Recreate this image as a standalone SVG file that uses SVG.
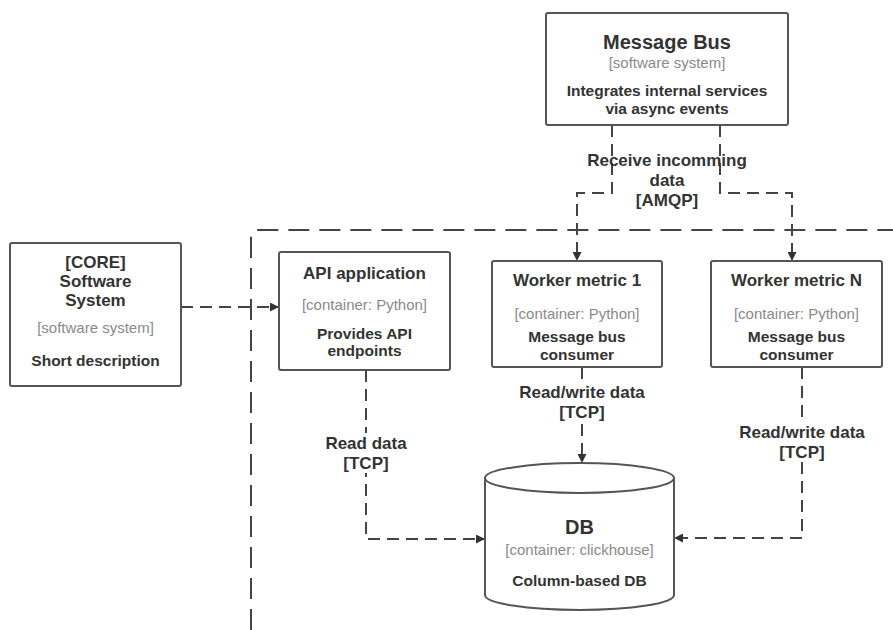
<svg xmlns="http://www.w3.org/2000/svg" width="893" height="630" viewBox="0 0 893 630">
<defs>
<style>
.box{fill:#fff;stroke:#555;stroke-width:2}
.t{font-family:"Liberation Sans",Arial,sans-serif;font-weight:bold;fill:#333;text-anchor:middle}
.h{font-size:17px}
.d{font-size:15.5px}
.g{font-family:"Liberation Sans",Arial,sans-serif;font-size:15px;fill:#8a8a8a;text-anchor:middle}
.c{fill:none;stroke:#444;stroke-width:2;stroke-dasharray:12 7}
.lbl{font-family:"Liberation Sans",Arial,sans-serif;font-weight:bold;font-size:17px;fill:#333;text-anchor:middle}
.bnd{fill:none;stroke:#444;stroke-width:2;stroke-dasharray:21 10}
</style>
<marker id="arr" viewBox="0 0 10 10" refX="10" refY="5" markerWidth="9" markerHeight="9" markerUnits="userSpaceOnUse" orient="auto">
<path d="M0 0 L10 5 L0 10 z" fill="#333"/>
</marker>
</defs>
<rect width="893" height="630" fill="#fff"/>

<g id="boundary">
<path class="bnd" d="M251 630 V238 Q251 230 259 230 H893"/>
</g>

<g id="connectors">
<path class="c" d="M181 307 H279" marker-end="url(#arr)"/>
<path class="c" d="M612 125 V193 H577 V261" marker-end="url(#arr)"/>
<path class="c" d="M720 125 V193 H792 V261" marker-end="url(#arr)"/>
<path class="c" d="M366 370 V539 H485" marker-end="url(#arr)"/>
<path class="c" d="M582 367 V463" marker-end="url(#arr)"/>
<path class="c" d="M802 367 V538 H674" marker-end="url(#arr)"/>
<g id="labels">
<text class="lbl" x="667" y="166">Receive incomming</text>
<text class="lbl" x="667" y="186">data</text>
<text class="lbl" x="667" y="206">[AMQP]</text>
<rect x="320" y="433" width="92" height="40" fill="#fff"/>
<text class="lbl" x="366" y="449">Read data</text>
<text class="lbl" x="366" y="469">[TCP]</text>
<rect x="515" y="381" width="134" height="40" fill="#fff"/>
<text class="lbl" x="582" y="398">Read/write data</text>
<text class="lbl" x="582" y="418">[TCP]</text>
<rect x="735" y="421" width="134" height="40" fill="#fff"/>
<text class="lbl" x="802" y="438">Read/write data</text>
<text class="lbl" x="802" y="458">[TCP]</text>
</g>
</g>

<g id="message-bus">
<rect class="box" x="546" y="13" width="242" height="112" rx="2"/>
<text class="t" x="667" y="49" font-size="20">Message Bus</text>
<text class="g" x="667" y="68">[software system]</text>
<text class="t d" x="667" y="95.5">Integrates internal services</text>
<text class="t d" x="667" y="113.5">via async events</text>
</g>

<g id="core">
<rect class="box" x="10" y="243" width="171" height="143" rx="2"/>
<text class="t h" x="95.5" y="268">[CORE]</text>
<text class="t h" x="95.5" y="287">Software</text>
<text class="t h" x="95.5" y="306">System</text>
<text class="g" x="95.5" y="333">[software system]</text>
<text class="t d" x="95.5" y="365.5">Short description</text>
</g>

<g id="api">
<rect class="box" x="279" y="252" width="171" height="118" rx="2"/>
<text class="t h" x="364.5" y="279">API application</text>
<text class="g" x="364.5" y="310">[container: Python]</text>
<text class="t d" x="364.5" y="338.5">Provides API</text>
<text class="t d" x="364.5" y="355.5">endpoints</text>
</g>

<g id="worker1">
<rect class="box" x="492" y="261" width="170" height="106" rx="2"/>
<text class="t h" x="577" y="286">Worker metric 1</text>
<text class="g" x="577" y="319">[container: Python]</text>
<text class="t d" x="577" y="341.5">Message bus</text>
<text class="t d" x="577" y="359.5">consumer</text>
</g>

<g id="workerN">
<rect class="box" x="711" y="261" width="171" height="106" rx="2"/>
<text class="t h" x="796.5" y="286">Worker metric N</text>
<text class="g" x="796.5" y="319">[container: Python]</text>
<text class="t d" x="796.5" y="341.5">Message bus</text>
<text class="t d" x="796.5" y="359.5">consumer</text>
</g>

<g id="db">
<path class="box" d="M485 478 V595 A94.5 15 0 0 0 674 595 V478"/>
<ellipse class="box" cx="579.5" cy="478" rx="94.5" ry="15"/>
<text class="t" x="579.5" y="534" font-size="20">DB</text>
<text class="g" x="579.5" y="555">[container: clickhouse]</text>
<text class="t d" x="579.5" y="585.5">Column-based DB</text>
</g>
</svg>
